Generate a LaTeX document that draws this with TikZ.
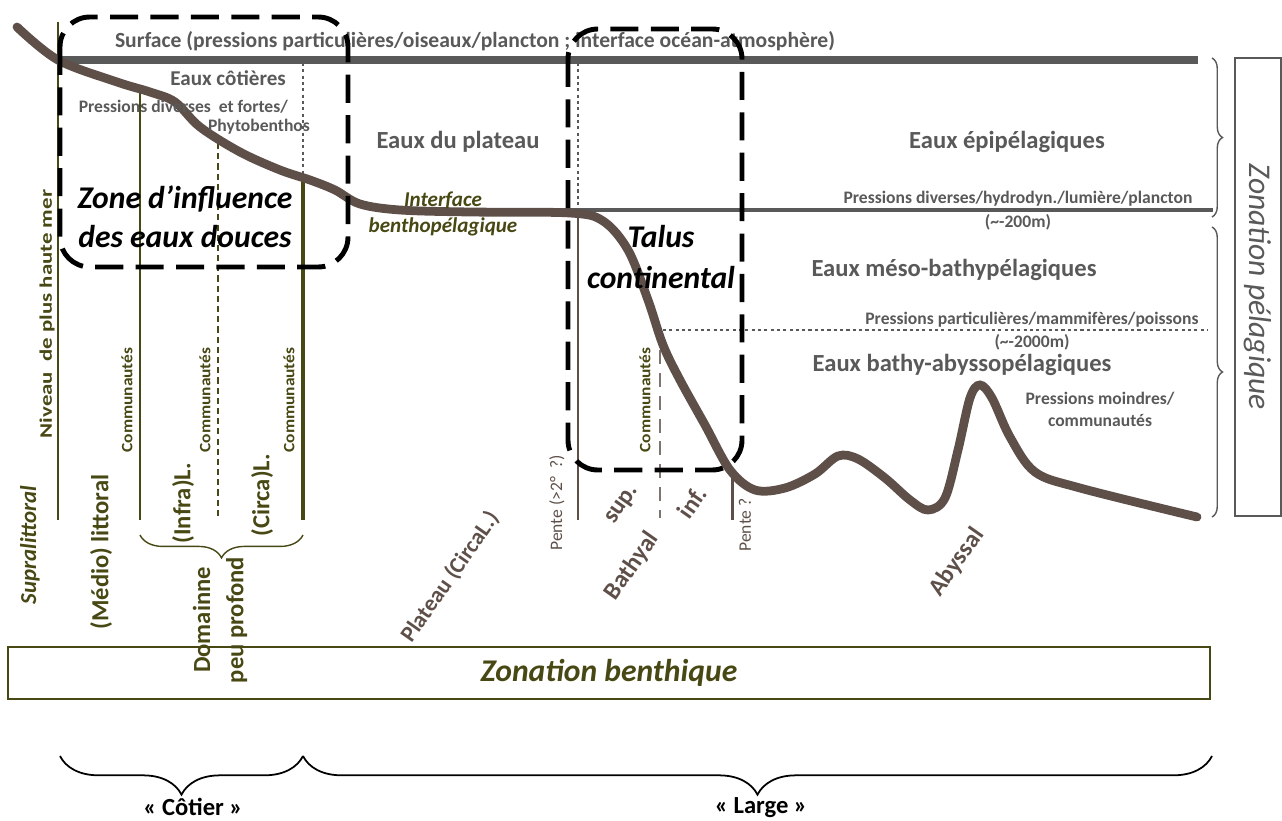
\documentclass[tikz,border=0pt]{standalone}
\usepackage{fontspec}
\setmainfont{Carlito}
\usetikzlibrary{decorations.pathreplacing}
\definecolor{gris}{RGB}{89,89,89}
\definecolor{brun}{RGB}{94,80,73}
\definecolor{kaki}{RGB}{72,72,20}
\newcommand{\fsz}[1]{\fontsize{#1}{#1}\selectfont}

\begin{document}
\begin{tikzpicture}[x=0.02cm, y=-0.02cm,
  eaux/.style={gris, font=\bfseries\fsz{14}},
  pression/.style={gris, font=\bfseries\fsz{10}, inner sep=1pt},
  commu/.style={kaki, font=\bfseries\fsz{9}, rotate=90},
  etage/.style={kaki, font=\bfseries\fsz{14}, rotate=90},
  pente/.style={brun, font=\fsz{10}, rotate=90},
  incline/.style={brun, font=\bfseries\fsz{14}, rotate=55},
  pointille/.style={gris, line width=1.7pt, dash pattern=on 1.8pt off 1.8pt},
  cadre/.style={line width=2.8pt, dash pattern=on 16pt off 7pt, rounded corners=17pt},
  accol/.style={decorate, decoration={brace, amplitude=#1}}]
\useasboundingbox (0,0) rectangle (1282,821);
% surface et limites pelagiques
\coordinate (s1) at (58,60);
\coordinate (s2) at (1198,60);
\draw[gris, line width=4.5pt] (s1)--(s2);
\coordinate (p1) at (518,210);
\coordinate (p2) at (1213,210);
\draw[gris, line width=1.8pt] (p1)--(p2);
\coordinate (m1) at (663,330);
\coordinate (m2) at (1208,330);
\draw[pointille] (m1)--(m2);
\coordinate (c1) at (303,63);
\coordinate (c2) at (303,176);
\draw[pointille] (c1)--(c2);
\coordinate (c3) at (578,63);
\coordinate (c4) at (578,210);
\draw[pointille] (c3)--(c4);
% limites benthiques
\coordinate (n1) at (58,22);
\coordinate (n2) at (58,520);
\draw[kaki, line width=0.9pt] (n1)--(n2);
\coordinate (n3) at (140,93);
\coordinate (n4) at (140,520);
\draw[kaki, line width=1.1pt] (n3)--(n4);
\coordinate (n5) at (218,143);
\coordinate (n6) at (218,518);
\draw[kaki, line width=0.8pt, dash pattern=on 3.5pt off 2.3pt] (n5)--(n6);
\coordinate (n7) at (303,178);
\coordinate (n8) at (303,520);
\draw[kaki, line width=2.2pt] (n7)--(n8);
\coordinate (b1) at (578,212);
\coordinate (b2) at (578,520);
\draw[brun, line width=1.7pt] (b1)--(b2);
\coordinate (b3) at (660,350);
\coordinate (b4) at (660,518);
\draw[brun!80, line width=1.7pt, dash pattern=on 8pt off 5pt] (b3)--(b4);
\coordinate (b5) at (732,478);
\coordinate (b6) at (732,520);
\draw[brun, line width=1.7pt] (b5)--(b6);
% fond
\draw[brun, line width=5pt, line cap=round] plot[smooth, tension=0.55] coordinates {
  (17,27) (58,60) (117,82) (150,92) (175,102) (200,127) (240,152) (280,170)
  (310,180) (335,190) (360,204) (400,210) (470,212) (570,213) (603,221)
  (628,250) (648,300) (663,345) (680,380) (705,425) (730,470) (755,490)
  (785,488) (815,474) (838,456) (858,459) (885,478) (910,500) (928,510)
  (945,498) (958,450) (970,398) (980,385) (992,398) (1010,437) (1035,472)
  (1080,488) (1197,517)};
% accolades
\coordinate (a1) at (1212,58);
\coordinate (a2) at (1212,217);
\draw[gris, line width=0.8pt, accol=6pt] (a1)--(a2);
\coordinate (a3) at (1212,227);
\coordinate (a4) at (1212,517);
\draw[gris, line width=0.8pt, accol=6pt] (a3)--(a4);
\coordinate (d1) at (303,535);
\coordinate (d2) at (140,535);
\draw[kaki, line width=0.8pt, accol=13pt] (d1)--(d2);
\coordinate (k1) at (303,756);
\coordinate (k2) at (60,756);
\draw[line width=1pt, accol=22pt] (k1)--(k2);
\coordinate (l1) at (1212,756);
\coordinate (l2) at (303,756);
\draw[line width=1pt, accol=22pt] (l1)--(l2);
% textes pelagiques
\node[gris, font=\bfseries\fsz{12.3}] (surf) at (475,41) {Surface (pressions particulières/oiseaux/plancton ; interface océan-atmosphère)};
\node[gris, font=\bfseries\fsz{12}, anchor=east] (cot) at (292,78) {Eaux côtières};
\node[pression, anchor=east] (pc1) at (290,107) {Pressions diverses\ \ et fortes/};
\node[pression, anchor=east] (pc2) at (312,127) {Phytobenthos};
\node[eaux] (plat) at (458,142) {Eaux du plateau};
\node[eaux] (epi) at (1007,142) {Eaux épipélagiques};
\node[pression] (pe1) at (1018,199) {Pressions diverses/hydrodyn./lumière/plancton};
\node[pression] (pe2) at (1018,222) {(\textasciitilde-200m)};
\node[eaux] (meso) at (954,270) {Eaux méso-bathypélagiques};
\node[pression] (pm1) at (1032,320) {Pressions particulières/mammifères/poissons};
\node[pression] (pm2) at (1032,342) {(\textasciitilde-2000m)};
\node[eaux] (abys) at (962,365) {Eaux bathy-abyssopélagiques};
\node[pression, align=center, font=\bfseries\fontsize{10}{12.5}\selectfont] (pa) at (1100,409) {Pressions moindres/\\communautés};
\node[draw=gris, line width=0.9pt, rotate=-90, minimum width=261pt, minimum height=26pt,
  gris, font=\itshape\fsz{18}] (pelag) at (1258,287) {Zonation pélagique};
% textes benthiques
\node[font=\bfseries\itshape\fontsize{18}{22}\selectfont, align=center] (zone) at (185,217) {Zone d’influence\\des eaux douces};
\node[font=\bfseries\itshape\fontsize{18}{23}\selectfont, align=center] (talus) at (661,257) {Talus\\continental};
\node[kaki, font=\bfseries\itshape\fontsize{12}{14.5}\selectfont, align=center] (inter) at (443,214) {Interface\\benthopélagique};
\node[commu, font=\bfseries\fsz{10}, xscale=1.3] (niv) at (47,314) {Niveau\ \ de plus haute mer};
\node[commu, xscale=1.1] (cm1) at (127,400) {Communautés};
\node[commu, xscale=1.1] (cm2) at (205,400) {Communautés};
\node[commu, xscale=1.1] (cm3) at (289,400) {Communautés};
\node[commu, xscale=1.1] (cm4) at (645,400) {Communautés};
\node[etage, font=\bfseries\itshape\fsz{13}] (supra) at (30,545) {Supralittoral};
\node[etage] (medio) at (101,552) {(Médio) littoral};
\node[etage] (infra) at (183,503) {(Infra)L.};
\node[etage] (circa) at (262,495) {(Circa)L.};
\node[etage, align=center, font=\bfseries\fontsize{14}{19}\selectfont] (dom) at (220,620) {Domainne\\peu profond};
\node[pente] (pt1) at (557,503) {Pente (>2°\ \ ?)};
\node[pente] (pt2) at (745,525) {Pente ?};
\node[incline, font=\bfseries\fsz{13}] (plq) at (450,577) {Plateau (CircaL.)};
\node[incline] (sup) at (623,505) {sup.};
\node[incline] (inf) at (692,502) {inf.};
\node[incline] (bath) at (632,566) {Bathyal};
\node[incline] (aby) at (957,562) {Abyssal};
\node[draw=kaki, line width=1pt, minimum width=684pt, minimum height=30pt,
  kaki, font=\bfseries\itshape\fsz{18}] (benth) at (609,673) {Zonation benthique};
\node[font=\bfseries\fsz{14}] (cotier) at (193,807) {«\ Côtier\ »};
\node[font=\bfseries\fsz{14}] (large) at (761,808) {«\ Large\ »};
% cadres
\coordinate (z1) at (60,17);
\coordinate (z2) at (348,267);
\draw[cadre] (z1) rectangle (z2);
\coordinate (t1) at (568,29);
\coordinate (t2) at (742,470);
\draw[cadre] (t1) rectangle (t2);
\end{tikzpicture}
\end{document}
